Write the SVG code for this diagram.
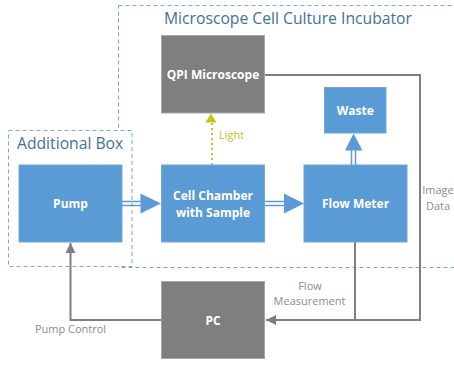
<svg xmlns="http://www.w3.org/2000/svg" width="454" height="365" viewBox="0 0 454 365">
<defs>
<style>
.blue{fill:#5b9bd5;stroke:#6fa8dc;stroke-width:1}
.gray{fill:#7f7f7f;stroke:#a6a6a6;stroke-width:1}
.nt{font-family:"Open Sans","Liberation Sans",sans-serif;font-weight:bold;font-size:12px;fill:#ffffff;text-anchor:middle}
.lab{font-family:"Open Sans","Liberation Sans",sans-serif;font-size:11px;fill:#8c8c8c;text-anchor:middle}
.title{font-family:"Open Sans","Liberation Sans",sans-serif;font-size:15.7px;fill:#41719c}
.box{fill:none;stroke:#7aa6d2;stroke-width:1;stroke-dasharray:4,3}
.conn{fill:none;stroke:#7f7f7f;stroke-width:2}
.dbl{stroke:#5b9bd5;stroke-width:1.5}
</style>
<marker id="ga" viewBox="0 0 10 10" refX="10" refY="5" markerWidth="5" markerHeight="5" orient="auto" markerUnits="strokeWidth">
<path d="M0,0 L10,5 L0,10 Z" fill="#7f7f7f"/>
</marker>
</defs>
<rect width="454" height="365" fill="#ffffff"/>
<g id="incubator">
<rect class="box" x="118.5" y="5.5" width="345" height="262"/>
<text class="title" x="164" y="24">Microscope Cell Culture Incubator</text>
</g>
<g id="additional-box">
<rect x="8.5" y="130.5" width="123.5" height="136" fill="#ffffff" stroke="#7aa6d2" stroke-width="1" stroke-dasharray="4,3"/>
<text class="title" x="17" y="149">Additional Box</text>
</g>
<g id="connectors">
<path class="conn" d="M264.5,75 H420 V320 H266" marker-end="url(#ga)"/>
<path class="conn" d="M355,242 V320"/>
<path class="conn" d="M161.5,320 H70.5 V243" marker-end="url(#ga)"/>
<line x1="212" y1="165" x2="212" y2="121" stroke="#c3c31c" stroke-width="2" stroke-dasharray="2,3"/>
<path d="M211,113.5 L216.5,122.5 L205.5,122.5 Z" fill="#c3c31c"/>
<text x="219" y="139" font-family="'Open Sans','Liberation Sans',sans-serif" font-size="11" fill="#c3c31c">Light</text>
<line class="dbl" x1="122" y1="201.5" x2="142" y2="201.5"/>
<line class="dbl" x1="122" y1="205.5" x2="142" y2="205.5"/>
<path d="M140.5,193.5 L161,203.5 L140.5,213.5 Z" fill="#5b9bd5"/>
<line class="dbl" x1="264.5" y1="201.5" x2="285" y2="201.5"/>
<line class="dbl" x1="264.5" y1="205.5" x2="285" y2="205.5"/>
<path d="M284,193.5 L304,203.5 L284,213.5 Z" fill="#5b9bd5"/>
<line class="dbl" x1="351.5" y1="165" x2="351.5" y2="149"/>
<line class="dbl" x1="355.5" y1="165" x2="355.5" y2="149"/>
<path d="M345,150.5 L353.5,133.5 L362.5,150.5 Z" fill="#5b9bd5"/>
<text class="lab" x="438" y="194">Image</text>
<text class="lab" x="438" y="210">Data</text>
<text class="lab" x="310" y="290">Flow</text>
<text class="lab" x="309.5" y="305">Measurement</text>
<text class="lab" x="70.5" y="333">Pump Control</text>
</g>
<g id="qpi-microscope">
<rect class="gray" x="161.5" y="35.5" width="103" height="77.5"/>
<text class="nt" x="213" y="79">QPI Microscope</text>
</g>
<g id="waste">
<rect class="blue" x="324.5" y="87.5" width="61.5" height="45.5"/>
<text class="nt" x="355.3" y="114.5">Waste</text>
</g>
<g id="pump">
<rect class="blue" x="19" y="165" width="103" height="77"/>
<text class="nt" x="70.5" y="208">Pump</text>
</g>
<g id="cell-chamber">
<rect class="blue" x="161.5" y="165" width="103" height="77"/>
<text class="nt" x="213" y="199.5">Cell Chamber</text>
<text class="nt" x="213" y="216.5">with Sample</text>
</g>
<g id="flow-meter">
<rect class="blue" x="304" y="165" width="103" height="77"/>
<text class="nt" x="355.5" y="208">Flow Meter</text>
</g>
<g id="pc">
<rect class="gray" x="161.5" y="281.5" width="103" height="77"/>
<text class="nt" x="213" y="325">PC</text>
</g>
</svg>
